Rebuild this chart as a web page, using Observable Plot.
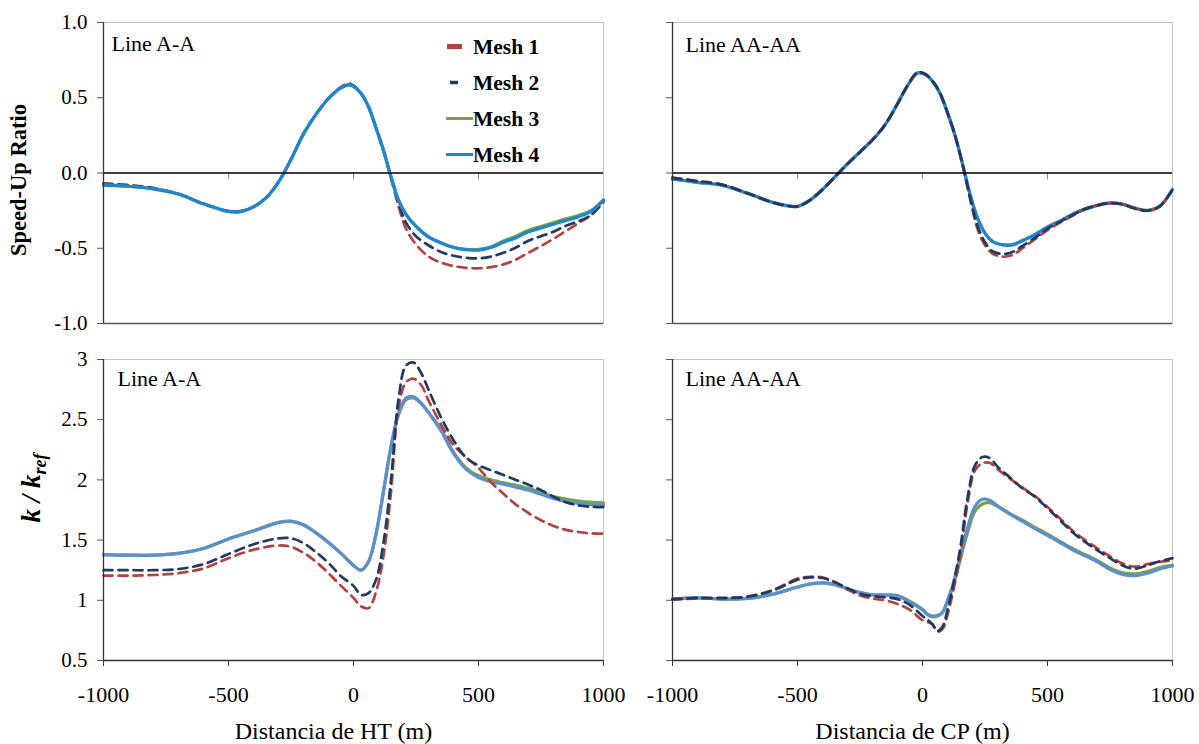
<!DOCTYPE html>
<html><head><meta charset="utf-8">
<script src="https://cdn.jsdelivr.net/npm/d3@7"></script>
<script src="https://cdn.jsdelivr.net/npm/@observablehq/plot@0.6"></script>
<style>
body{margin:0;background:#fff;font-family:"Liberation Serif",serif;}
#chart{position:relative;width:1199px;height:744px;overflow:hidden;background:#fff;}
#chart > div{position:absolute;}
#chart svg, #chart svg text, #chart svg tspan{font-family:"Liberation Serif",serif !important;}
</style></head><body><div id="chart"></div>
<script>
// ---------- data ----------
const SERIES = ["Mesh 1", "Mesh 2", "Mesh 3", "Mesh 4"];
const X_TICKS = [-1000, -500, 0, 500, 1000];
const SU_TICKS = [-1.0, -0.5, 0.0, 0.5, 1.0];
const K_TICKS = [0.5, 1, 1.5, 2, 2.5, 3];
const LINE_LABELS = ["Line A-A", "Line AA-AA"];
const X_TITLES = ["Distancia de HT (m)", "Distancia de CP (m)"];
const Y_TITLE_TOP = "Speed-Up Ratio";

// Speed-up ratio, Line A-A
const suA_x  = [-1000,-900,-800,-700,-600,-500,-450,-400,-350,-300,-250,-200,-150,-100,-50,-20,0,30,60,90,120,150,180,210,250,300,350,400,450,500,550,600,650,700,750,800,850,900,950,1000];
const suA_m1 = [-0.068,-0.080,-0.100,-0.140,-0.205,-0.255,-0.255,-0.225,-0.165,-0.060,0.090,0.260,0.390,0.497,0.570,0.595,0.580,0.530,0.440,0.300,0.150,-0.035,-0.220,-0.370,-0.475,-0.555,-0.595,-0.618,-0.630,-0.633,-0.625,-0.607,-0.575,-0.530,-0.485,-0.437,-0.385,-0.333,-0.280,-0.190];
const suA_m2 = [-0.072,-0.082,-0.100,-0.140,-0.205,-0.255,-0.255,-0.225,-0.165,-0.060,0.090,0.260,0.390,0.497,0.570,0.593,0.580,0.530,0.440,0.300,0.150,-0.030,-0.200,-0.330,-0.420,-0.480,-0.525,-0.550,-0.563,-0.567,-0.555,-0.530,-0.495,-0.450,-0.420,-0.390,-0.350,-0.320,-0.280,-0.190];
const suA_m3 = [-0.080,-0.088,-0.105,-0.140,-0.205,-0.255,-0.255,-0.225,-0.165,-0.060,0.090,0.260,0.390,0.495,0.565,0.585,0.575,0.530,0.440,0.300,0.150,-0.025,-0.180,-0.275,-0.355,-0.425,-0.465,-0.493,-0.507,-0.508,-0.490,-0.452,-0.420,-0.380,-0.355,-0.330,-0.305,-0.282,-0.250,-0.178];
const suA_m4 = [-0.080,-0.088,-0.105,-0.140,-0.205,-0.255,-0.255,-0.225,-0.165,-0.060,0.090,0.260,0.390,0.495,0.565,0.585,0.575,0.530,0.440,0.300,0.150,-0.025,-0.180,-0.275,-0.355,-0.425,-0.465,-0.495,-0.510,-0.512,-0.495,-0.460,-0.430,-0.390,-0.365,-0.340,-0.315,-0.290,-0.255,-0.180];

// Speed-up ratio, Line AA-AA
const suAA_x  = [-1000,-900,-800,-700,-600,-550,-500,-450,-400,-350,-300,-250,-200,-150,-100,-60,-20,10,40,70,100,130,160,190,220,250,280,320,360,400,450,500,550,600,650,700,750,800,850,900,950,1000];
const suAA_m1 = [-0.030,-0.053,-0.077,-0.135,-0.195,-0.215,-0.222,-0.180,-0.110,-0.025,0.060,0.140,0.220,0.320,0.460,0.580,0.668,0.658,0.612,0.530,0.400,0.250,0.060,-0.170,-0.370,-0.480,-0.535,-0.556,-0.545,-0.500,-0.440,-0.380,-0.330,-0.285,-0.240,-0.215,-0.200,-0.208,-0.235,-0.250,-0.220,-0.110];
const suAA_m2 = [-0.032,-0.055,-0.078,-0.135,-0.195,-0.215,-0.222,-0.180,-0.110,-0.025,0.060,0.140,0.220,0.320,0.460,0.580,0.668,0.658,0.612,0.530,0.400,0.250,0.060,-0.160,-0.350,-0.460,-0.520,-0.538,-0.525,-0.485,-0.430,-0.370,-0.325,-0.280,-0.240,-0.215,-0.200,-0.208,-0.235,-0.250,-0.220,-0.110];
const suAA_m3 = [-0.040,-0.062,-0.082,-0.135,-0.195,-0.215,-0.222,-0.180,-0.110,-0.025,0.060,0.140,0.220,0.320,0.460,0.580,0.665,0.655,0.610,0.530,0.400,0.250,0.060,-0.140,-0.300,-0.400,-0.455,-0.476,-0.476,-0.448,-0.408,-0.358,-0.318,-0.273,-0.238,-0.213,-0.198,-0.206,-0.233,-0.248,-0.218,-0.108];
const suAA_m4 = [-0.040,-0.062,-0.082,-0.135,-0.195,-0.215,-0.222,-0.180,-0.110,-0.025,0.060,0.140,0.220,0.320,0.460,0.580,0.665,0.655,0.610,0.530,0.400,0.250,0.060,-0.140,-0.300,-0.400,-0.455,-0.478,-0.478,-0.450,-0.410,-0.360,-0.320,-0.275,-0.240,-0.215,-0.200,-0.208,-0.235,-0.250,-0.220,-0.110];

// k / k_ref, Line A-A
const kA_x  = [-1000,-900,-800,-700,-600,-500,-400,-300,-250,-200,-150,-100,-50,0,30,60,90,120,150,180,210,240,270,300,350,400,450,500,550,600,650,700,750,800,850,900,950,1000];
const kA_m1 = [1.205,1.205,1.21,1.225,1.265,1.35,1.42,1.455,1.445,1.395,1.32,1.225,1.12,1.02,0.95,0.935,1.07,1.37,1.90,2.60,2.81,2.84,2.79,2.66,2.46,2.29,2.19,2.10,1.98,1.885,1.795,1.725,1.665,1.618,1.585,1.567,1.556,1.553];
const kA_m2 = [1.25,1.25,1.25,1.26,1.30,1.385,1.465,1.515,1.515,1.475,1.40,1.31,1.20,1.12,1.045,1.06,1.17,1.48,2.00,2.67,2.95,2.975,2.89,2.75,2.52,2.33,2.185,2.12,2.08,2.04,2.00,1.96,1.915,1.86,1.815,1.788,1.777,1.774];
const kA_m3 = [1.38,1.375,1.375,1.39,1.43,1.51,1.578,1.648,1.658,1.628,1.56,1.48,1.39,1.29,1.25,1.32,1.55,1.90,2.27,2.54,2.665,2.68,2.635,2.56,2.42,2.23,2.10,2.035,2.0,1.975,1.955,1.93,1.895,1.862,1.84,1.825,1.815,1.81];
const kA_m4 = [1.38,1.375,1.375,1.39,1.43,1.51,1.575,1.645,1.655,1.625,1.56,1.48,1.39,1.29,1.25,1.32,1.55,1.91,2.28,2.55,2.68,2.69,2.64,2.56,2.41,2.22,2.09,2.02,1.985,1.965,1.94,1.915,1.88,1.845,1.82,1.805,1.795,1.79];

// k / k_ref, Line AA-AA
const kAA_x  = [-1000,-900,-800,-700,-600,-500,-450,-400,-350,-300,-250,-200,-150,-100,-50,0,20,40,60,80,100,120,150,180,210,240,270,300,350,400,450,500,550,600,650,700,750,800,850,900,950,1000];
const kAA_m1 = [1.005,1.015,1.015,1.03,1.085,1.18,1.195,1.19,1.15,1.09,1.04,1.015,1.0,0.97,0.92,0.835,0.82,0.80,0.74,0.76,0.88,1.05,1.36,1.80,2.08,2.14,2.14,2.09,2.01,1.935,1.865,1.775,1.68,1.58,1.50,1.43,1.365,1.305,1.28,1.30,1.32,1.33];
const kAA_m2 = [1.01,1.02,1.02,1.03,1.08,1.17,1.19,1.185,1.15,1.10,1.055,1.035,1.025,1.01,0.96,0.87,0.84,0.80,0.745,0.78,0.92,1.10,1.42,1.85,2.12,2.19,2.18,2.11,2.02,1.93,1.86,1.765,1.665,1.565,1.485,1.415,1.35,1.29,1.262,1.29,1.325,1.35];
const kAA_m3 = [1.01,1.02,1.01,1.015,1.05,1.11,1.135,1.145,1.13,1.095,1.065,1.045,1.045,1.04,0.99,0.925,0.885,0.87,0.875,0.90,0.99,1.10,1.33,1.56,1.74,1.80,1.81,1.78,1.72,1.665,1.605,1.55,1.49,1.43,1.38,1.33,1.268,1.228,1.22,1.24,1.272,1.292];
const kAA_m4 = [1.01,1.02,1.01,1.015,1.05,1.11,1.135,1.145,1.13,1.095,1.065,1.045,1.042,1.035,0.985,0.92,0.88,0.862,0.87,0.90,1.00,1.12,1.36,1.60,1.78,1.84,1.83,1.785,1.715,1.655,1.595,1.54,1.48,1.42,1.37,1.32,1.255,1.215,1.205,1.225,1.26,1.285];

// ---------- styles ----------
const FONT = '"Liberation Serif", serif';
const RED = "#b5413f", NAVY = "#1f3b63", GREEN = "#7ba23f";
const BLUE_TOP = "#1f86d6", BLUE_BOTTOM = "#5b8fd2";
const DASHED = [true, true, false, false];
const ZERO_TICK = 0.045;

function makePanel(cfg) {
  const lineMarks = cfg.order.map(s => {
    const data = cfg.x.map((x, i) => ({x, v: cfg.series[s][i]}));
    const opts = {x: "x", y: "v", stroke: cfg.colors[s], strokeWidth: DASHED[s] ? 2.7 : 3.2, curve: "catmull-rom"};
    if (DASHED[s]) opts.strokeDasharray = "9,6";
    return Plot.line(data, opts);
  });
  const marks = [Plot.frame({stroke: "#c4c4c4"})];
  if (cfg.zero) {
    marks.push(Plot.ruleX(X_TICKS.slice(1, -1), {y1: 0, y2: -ZERO_TICK, stroke: "#888"}));
  }
  marks.push(...lineMarks);
  if (cfg.zero) marks.push(Plot.ruleY([0], {stroke: "#000", strokeWidth: 1.4}));
  marks.push(Plot.ruleX([X_TICKS[0]], {stroke: "#333", strokeWidth: 1.3}));
  marks.push(Plot.ruleY([cfg.yDomain[0]], {stroke: cfg.bottomStroke, strokeWidth: 1.3}));
  marks.push(Plot.axisY({ticks: cfg.yTicks, tickSize: 6, tickPadding: 10, tickFormat: cfg.yFormat, fontSize: 21, stroke: "#555", label: null}));
  if (cfg.xAxis) {
    marks.push(Plot.axisX({ticks: X_TICKS, tickSize: 6, tickPadding: 20, tickFormat: d => String(d), fontSize: 22, stroke: "#333", label: null}));
    marks.push(Plot.text([cfg.xTitle], {text: d => d, frameAnchor: "bottom", textAnchor: "middle", lineAnchor: "middle", dy: 71, dx: cfg.xTitleDx, fontSize: 24}));
  }
  marks.push(Plot.text([cfg.lineLabel], {text: d => d, frameAnchor: "top-left", dx: cfg.labelDx, dy: cfg.labelDy, textAnchor: "start", lineAnchor: "middle", fontSize: 22}));
  if (cfg.yTitle) {
    marks.push(Plot.text([cfg.yTitle], {text: d => d, frameAnchor: "left", textAnchor: "middle", lineAnchor: "middle", dx: -85, dy: 7, rotate: -90, fontSize: 22.5, fontWeight: "bold"}));
  }
  return Plot.plot({
    width: 620, height: cfg.height,
    marginLeft: 103, marginRight: 17, marginTop: cfg.mt, marginBottom: cfg.mb,
    x: {domain: [X_TICKS[0], X_TICKS[X_TICKS.length - 1]], axis: cfg.xAxis ? undefined : null},
    y: {domain: cfg.yDomain},
    style: {fontFamily: FONT, fontSize: "21px", color: "#000", background: "transparent", overflow: "visible"},
    marks
  });
}

const chart = document.getElementById("chart");
function place(node, left, top) {
  const d = document.createElement("div");
  d.style.left = left + "px"; d.style.top = top + "px";
  d.appendChild(node); chart.appendChild(d);
  return node;
}
const suFmt = d => d.toFixed(1);
const none = () => "";

const p1 = place(makePanel({
  x: suA_x, series: [suA_m1, suA_m2, suA_m3, suA_m4], order: [0, 1, 2, 3],
  colors: [RED, NAVY, GREEN, BLUE_TOP], yDomain: [-1, 1], yTicks: SU_TICKS, yFormat: suFmt,
  height: 340, mt: 22, mb: 17, zero: true, xAxis: false, bottomStroke: "#555",
  lineLabel: LINE_LABELS[0], labelDx: 8, labelDy: 21.5, yTitle: Y_TITLE_TOP
}), 0, 0);

place(makePanel({
  x: suAA_x, series: [suAA_m1, suAA_m2, suAA_m3, suAA_m4], order: [2, 3, 0, 1],
  colors: [RED, NAVY, GREEN, BLUE_TOP], yDomain: [-1, 1], yTicks: SU_TICKS, yFormat: none,
  height: 340, mt: 22, mb: 17, zero: true, xAxis: false, bottomStroke: "#555",
  lineLabel: LINE_LABELS[1], labelDx: 13, labelDy: 22
}), 569, 0);

const p3 = place(makePanel({
  x: kA_x, series: [kA_m1, kA_m2, kA_m3, kA_m4], order: [2, 3, 0, 1],
  colors: [RED, NAVY, GREEN, BLUE_BOTTOM], yDomain: [0.5, 3], yTicks: K_TICKS, yFormat: d => String(d),
  height: 404, mt: 19, mb: 84, zero: false, xAxis: true, bottomStroke: "#333",
  xTitle: X_TITLES[0], xTitleDx: -20,
  lineLabel: LINE_LABELS[0], labelDx: 14, labelDy: 19.5
}), 0, 340);

place(makePanel({
  x: kAA_x, series: [kAA_m1, kAA_m2, kAA_m3, kAA_m4], order: [2, 3, 0, 1],
  colors: [RED, NAVY, GREEN, BLUE_BOTTOM], yDomain: [0.5, 3], yTicks: K_TICKS, yFormat: none,
  height: 404, mt: 19, mb: 84, zero: false, xAxis: true, bottomStroke: "#333",
  xTitle: X_TITLES[1], xTitleDx: -10,
  lineLabel: LINE_LABELS[1], labelDx: 13, labelDy: 19.5
}), 569, 340);

// k / k_ref axis title (with subscript)
const kt = d3.select(p3).append("text")
  .attr("transform", "translate(40,148) rotate(-90)")
  .attr("text-anchor", "middle")
  .attr("font-family", FONT).attr("font-weight", "bold").attr("font-style", "italic")
  .attr("font-size", 27).attr("fill", "#000");
kt.append("tspan").text("k / k");
kt.append("tspan").attr("font-size", 18).attr("dy", 6).text("ref");

// legend
const legendColors = [RED, NAVY, GREEN, BLUE_TOP];
const swatch = [[447, 462, 5], [450, 458, 3.5], [446, 473, 3], [446, 473, 3]];
const lg = d3.select(p1).append("g").attr("text-anchor", "start");
SERIES.forEach((name, i) => {
  const cy = 46.5 + i * 36;
  lg.append("line").attr("x1", swatch[i][0]).attr("x2", swatch[i][1]).attr("y1", cy).attr("y2", cy)
    .attr("stroke", legendColors[i]).attr("stroke-width", swatch[i][2]);
  lg.append("text").attr("x", 473).attr("y", cy + 7).attr("text-anchor", "start").attr("font-family", FONT)
    .attr("font-weight", "bold").attr("font-size", 21.5).attr("fill", "#000").text(name);
});
</script></body></html>
